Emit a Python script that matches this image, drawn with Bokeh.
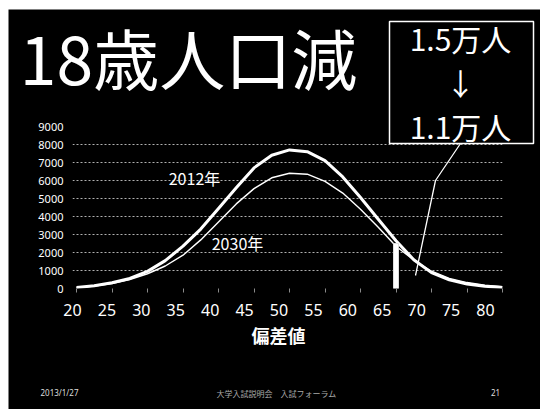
from bokeh.plotting import figure
from bokeh.models import (Range1d, LinearAxis, FixedTicker, Label, BoxAnnotation,
                          ColumnDataSource, GridBox)
from bokeh.embed import file_html
from bokeh.resources import INLINE

# ---------------- data ----------------
deviation = [20, 22.5, 25, 27.5, 30, 32.5, 35, 37.5, 40, 42.5, 45, 47.5, 50,
             52.5, 55, 57.5, 60, 62.5, 65, 67.5, 70, 72.5, 75, 77.5, 80]
pop_2012 = [60, 150, 320, 560, 950, 1550, 2350, 3300, 4450, 5600, 6700, 7400, 7700,
            7600, 7100, 6200, 5050, 3850, 2650, 1600, 880, 480, 250, 130, 60]
pop_2030 = [50, 130, 280, 500, 820, 1250, 1850, 2700, 3700, 4700, 5550, 6150, 6400,
            6350, 5950, 5300, 4400, 3400, 2350, 1580, 960, 560, 330, 190, 100]
x_ticks = [20, 25, 30, 35, 40, 45, 50, 55, 60, 65, 70, 75, 80]
y_ticks = [0, 1000, 2000, 3000, 4000, 5000, 6000, 7000, 8000, 9000]
cutoff_x = [65]
cutoff_top = [2500]
series_labels = ["2012年", "2030年"]
title_text = "18歳人口減"
box_lines = ["1.5万人", "↓", "1.1万人"]
x_title = "偏差値"
footer_left = "2013/1/27"
footer_mid = "大学入試説明会　入試フォーラム"
footer_right = "21"

# ---------------- main chart layout ----------------
PAGE_W, PAGE_H = 540, 409
ML, MT = 8, 9                      # white page margin left / top
W, H = PAGE_W - ML, PAGE_H - MT
FL, FR, FT, FB = 64, 38, 117, 121
FW, FH = W - FL - FR, H - FT - FB
kx = (494 - 68) / 60.0
x_start = 20 - (68 - FL) / kx
x_end = x_start + FW / kx
kl = (477 - 64) / 60.0
lab_end = 20 + FW / kl
Y_MAX = 9000


def dx(px):
    return x_start + (px - ML - FL) / kx


def dy(py):
    return Y_MAX * (MT + FT + FH - py) / FH


# black slide background (bottom layer)
bg = figure(width=W, height=H, output_backend="svg", toolbar_location=None,
            x_axis_location=None, y_axis_location=None, min_border=0,
            background_fill_color="black", border_fill_color=None,
            outline_line_color=None, margin=(MT, 0, 0, ML))
bg.frame_align = False
bg.xgrid.visible = False
bg.ygrid.visible = False

p = figure(width=W, height=H, output_backend="svg", toolbar_location=None,
           x_range=Range1d(x_start, x_end), y_range=Range1d(0, Y_MAX),
           min_border_left=FL, min_border_right=FR, min_border_top=FT, min_border_bottom=FB,
           background_fill_color=None, border_fill_color=None,
           outline_line_color=None, margin=(MT, 0, 0, ML))
p.frame_align = False

p.extra_x_ranges = {"lab": Range1d(20, lab_end)}

# y axis
yax = p.yaxis[0]
yax.ticker = FixedTicker(ticks=y_ticks)
yax.axis_line_color = None
yax.major_tick_line_color = None
yax.minor_tick_line_color = None
yax.major_tick_out = 0
yax.major_tick_in = 0
yax.major_label_standoff = 9
yax.major_label_text_color = "white"
yax.major_label_text_font = "Noto Sans"
yax.major_label_text_font_size = "11px"

# x tick axis (data positions)
tax = p.xaxis[0]
tax.ticker = FixedTicker(ticks=x_ticks)
tax.axis_line_color = None
tax.major_tick_line_color = "#8a8a8a"
tax.major_tick_out = 4
tax.major_tick_in = 0
tax.minor_tick_line_color = None
tax.major_label_text_font_size = "1px"
tax.major_label_text_alpha = 0
tax.major_label_standoff = 0

# x label axis
lax = LinearAxis(x_range_name="lab", ticker=FixedTicker(ticks=x_ticks),
                 axis_line_color=None, major_tick_line_color=None, minor_tick_line_color=None,
                 major_tick_out=0, major_tick_in=0, major_label_standoff=11,
                 major_label_text_color="white", major_label_text_font="Noto Sans",
                 major_label_text_font_size="16px")
p.add_layout(lax, "below")

p.xgrid.visible = False
p.ygrid.ticker = FixedTicker(ticks=y_ticks[1:])
p.ygrid.grid_line_color = "#b0b0b0"
p.ygrid.grid_line_dash = "2 2"
p.ygrid.grid_line_width = 1

# curves
src = ColumnDataSource(dict(x=deviation, y12=pop_2012, y30=pop_2030))
p.line("x", "y30", source=src, line_color="white", line_width=1.4, line_join="round")
p.line("x", "y12", source=src, line_color="white", line_width=3, line_join="round")

# cutoff bar
p.vbar(x=cutoff_x, top=cutoff_top, bottom=0, width=0.7, fill_color="white", line_color="#dddddd")

# callout line (page pixel anchors converted to data)
p.line([dx(460), dx(435), dx(415)], [dy(143), dy(180), dy(275)], line_color="white", line_width=1.3)

# ---------------- transparent overlay for slide texts ----------------
ov = figure(width=PAGE_W, height=PAGE_H, output_backend="svg", toolbar_location=None,
            x_range=Range1d(0, PAGE_W), y_range=Range1d(PAGE_H, 0),
            x_axis_location=None, y_axis_location=None,
            min_border=0, background_fill_color=None, border_fill_color=None,
            outline_line_color=None)
ov.frame_align = False
ov.xgrid.visible = False
ov.ygrid.visible = False

ov.add_layout(BoxAnnotation(left=389, right=533, top=21, bottom=143,
                            fill_color=None, line_color="white", line_alpha=1.0,
                            line_width=1.5))


def lab(text, x, y, size, color="white", font="Noto Sans CJK JP", style="normal"):
    ov.add_layout(Label(x=x, y=y, text=text, text_align="center",
                        text_baseline="middle", text_color=color, text_font=font,
                        text_font_size=size, text_font_style=style))


lab(title_text, 188, 55, "66px")
lab(box_lines[0], 460, 37, "30px")
lab(box_lines[1], 460, 81, "30px")
lab(box_lines[2], 460, 125, "30px")
lab(series_labels[0], 194, 177, "16px")
lab(series_labels[1], 237, 242, "16px")
lab(x_title, 278, 334, "18px", style="bold")
lab(footer_left, 59, 392, "8px", color="#dddddd", font="Noto Sans")
lab(footer_mid, 276, 393, "8px", color="#aaaaaa")
lab(footer_right, 495, 392, "8px", color="#dddddd", font="Noto Sans")

layout = GridBox(children=[(bg, 0, 0), (p, 0, 0), (ov, 0, 0)])

open("out.html", "w").write(file_html(layout, INLINE))
